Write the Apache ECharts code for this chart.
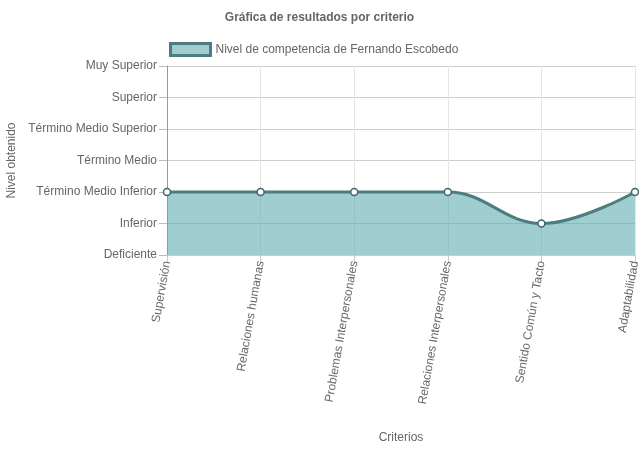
<!DOCTYPE html>
<html><head><meta charset="utf-8">
<script src="https://cdn.jsdelivr.net/npm/echarts@6/dist/echarts.min.js"></script>
<style>html,body{margin:0;padding:0;background:#fff}#c{width:639px;height:449px}</style>
</head><body><div id="c"></div>
<script>
const categories = ["Supervisión","Relaciones humanas","Problemas Interpersonales","Relaciones Interpersonales","Sentido Común y Tacto","Adaptabilidad"];
const levels = ["Deficiente","Inferior","Término Medio Inferior","Término Medio","Término Medio Superior","Superior","Muy Superior"];
const values = [2,2,2,2,1,2];
const seriesName = "Nivel de competencia de Fernando Escobedo";

const chart = echarts.init(document.getElementById('c'));
const font = 'Arial, "Liberation Sans", sans-serif';
chart.setOption({
  animation:false,
  textStyle:{fontFamily:font},
  title:{text:"Gráfica de resultados por criterio",left:'center',top:7,
    textStyle:{fontSize:12,fontWeight:'bold',color:'#666',fontFamily:font}},
  legend:{top:37,left:164,itemWidth:40,itemHeight:12,itemGap:8,
    textStyle:{fontSize:12,color:'#666',fontFamily:font},
    data:[{name:seriesName,icon:'rect',itemStyle:{color:'#a0cdd0',borderColor:'#4e7d80',borderWidth:3}}]},
  grid:{left:167,right:4,top:66,bottom:194,containLabel:false,outerBoundsMode:'none'},
  xAxis:{type:'category',data:categories,boundaryGap:false,
    name:'Criterios',nameLocation:'middle',nameGap:177,
    nameTextStyle:{fontSize:12,color:'#666'},
    axisLine:{show:true,lineStyle:{color:'#ccc'}},
    axisTick:{show:true,length:8,lineStyle:{color:'#ccc'}},
    axisLabel:{rotate:80,fontSize:12,color:'#666',margin:6},
    splitLine:{show:true,lineStyle:{color:'#e6e6e6'}}},
  yAxis:{type:'value',min:0,max:6,interval:1,
    name:'Nivel obtenido',nameLocation:'middle',nameGap:148,
    nameTextStyle:{fontSize:12,color:'#666'},
    axisLine:{show:true,lineStyle:{color:'#999'}},
    axisTick:{show:true,length:8,lineStyle:{color:'#bbb'}},
    axisLabel:{fontSize:12,color:'#666',margin:10,formatter:v=>levels[v]},
    splitLine:{show:true,lineStyle:{color:'#cfcfcf'}}},
  series:[{name:seriesName,type:'line',data:values,smooth:0.4,
    symbol:'circle',symbolSize:7,
    itemStyle:{color:'#fff',borderColor:'#3f6669',borderWidth:1.5},
    lineStyle:{color:'#4e7d80',width:3},
    areaStyle:{color:'rgba(97,172,177,0.6)',opacity:1,origin:'start'}}]
});
</script></body></html>
